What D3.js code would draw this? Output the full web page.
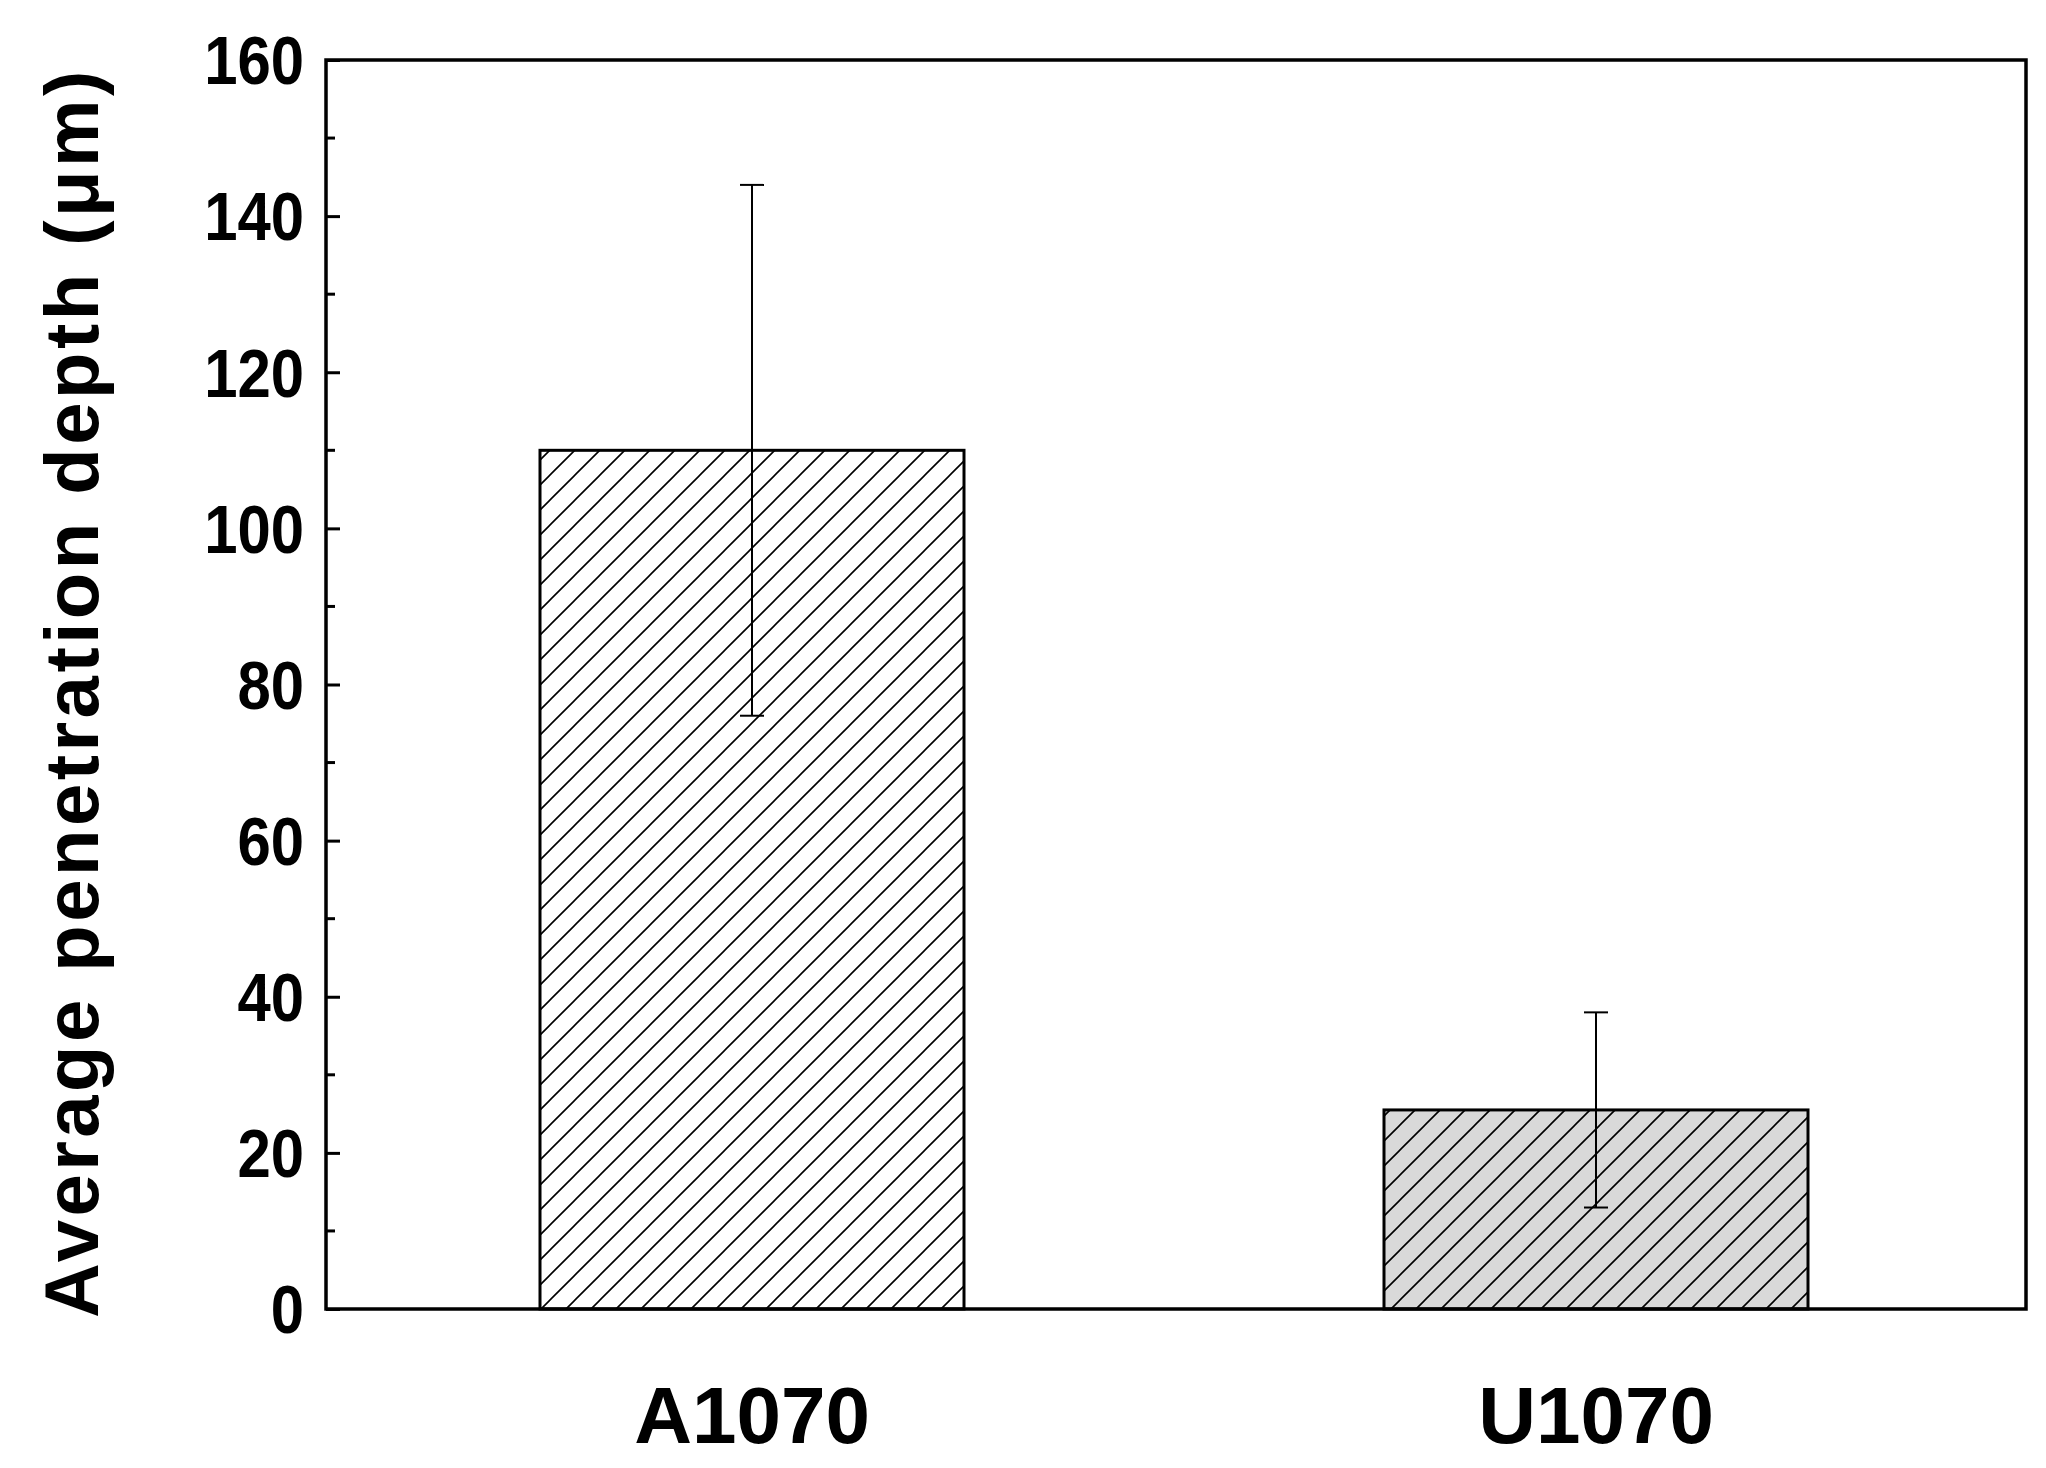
<!DOCTYPE html>
<html><head><meta charset="utf-8">
<script src="https://cdn.jsdelivr.net/npm/d3@7"></script>
<style>body{margin:0;background:#fff}</style></head>
<body><svg id="chart" width="2046" height="1468"></svg>
<script>
// Data
const categories = ["A1070", "U1070"];
const values = [110, 25.5];
const errors = [34, 12.5];
const fills = ["#ffffff", "#d9d9d9"];
const yTicks = [0, 20, 40, 60, 80, 100, 120, 140, 160];

const m = {left: 326, right: 2026, top: 60, bottom: 1309};
const svg = d3.select("#chart");
const font = "'Liberation Sans', Arial, sans-serif";

const x = d3.scalePoint().domain(categories).range([m.left + 0.25 * (m.right - m.left) + 1, m.left + 0.75 * (m.right - m.left) - 5]);
const barW = 424;
const y = d3.scaleLinear().domain([0, 160]).range([m.bottom, m.top]);

// hatch pattern
const defs = svg.append("defs");
const hs = 25;
fills.forEach((f, i) => {
  const p = defs.append("pattern").attr("id", "hatch" + i).attr("patternUnits", "userSpaceOnUse")
    .attr("width", hs).attr("height", hs);
  p.append("rect").attr("width", hs).attr("height", hs).attr("fill", f);
  p.append("path").attr("d", `M-2,${hs + 2} L${hs + 2},-2 M-${hs / 2},${hs / 2} L${hs / 2},-${hs / 2} M${hs / 2},${hs * 1.5} L${hs * 1.5},${hs / 2}`)
    .attr("stroke", "#000").attr("stroke-width", 1.6);
});

categories.forEach((c, i) => {
  const cx = x(c);
  svg.append("rect").attr("x", cx - barW / 2).attr("y", y(values[i]))
    .attr("width", barW).attr("height", y(0) - y(values[i]))
    .attr("fill", `url(#hatch${i})`).attr("stroke", "#000").attr("stroke-width", 3);
  const top = y(values[i] + errors[i]), bot = y(values[i] - errors[i]);
  svg.append("line").attr("x1", cx).attr("x2", cx).attr("y1", top).attr("y2", bot).attr("stroke", "#000").attr("stroke-width", 2);
  [top, bot].forEach(v => svg.append("line").attr("x1", cx - 12).attr("x2", cx + 12).attr("y1", v).attr("y2", v).attr("stroke", "#000").attr("stroke-width", 2));
  svg.append("text").attr("x", cx).attr("y", 1443).attr("text-anchor", "middle")
    .attr("font-family", font).attr("font-weight", "bold").attr("font-size", 80).text(c);
});

// frame
svg.append("rect").attr("x", m.left).attr("y", m.top).attr("width", m.right - m.left).attr("height", m.bottom - m.top)
  .attr("fill", "none").attr("stroke", "#000").attr("stroke-width", 3.5);

// y axis ticks (inside)
const yAxis = d3.axisLeft(y).tickValues(yTicks).tickSize(-14).tickPadding(24);
const g = svg.append("g").attr("transform", `translate(${m.left},0)`).call(yAxis);
g.select(".domain").remove();
g.selectAll("line").attr("stroke-width", 3);
g.selectAll("text").attr("font-family", font).attr("font-weight", "bold").attr("font-size", 68).attr("fill", "#000")
  .attr("text-anchor", "end").attr("dy", "0.35em")
  .attr("transform", "scale(0.88,1)").attr("x", -22 / 0.88);
// minor ticks
const minor = d3.range(10, 160, 20);
svg.selectAll(".minor").data(minor).join("line").attr("x1", m.left).attr("x2", m.left + 9)
  .attr("y1", d => y(d)).attr("y2", d => y(d)).attr("stroke", "#000").attr("stroke-width", 3);

svg.append("text").attr("transform", `translate(98,${(m.top + m.bottom) / 2 + 8}) rotate(-90)`)
  .attr("text-anchor", "middle").attr("font-family", font).attr("font-weight", "bold").attr("font-size", 76)
  .attr("letter-spacing", 3.5)
  .text("Average penetration depth (\u03bcm)");
</script></body></html>
